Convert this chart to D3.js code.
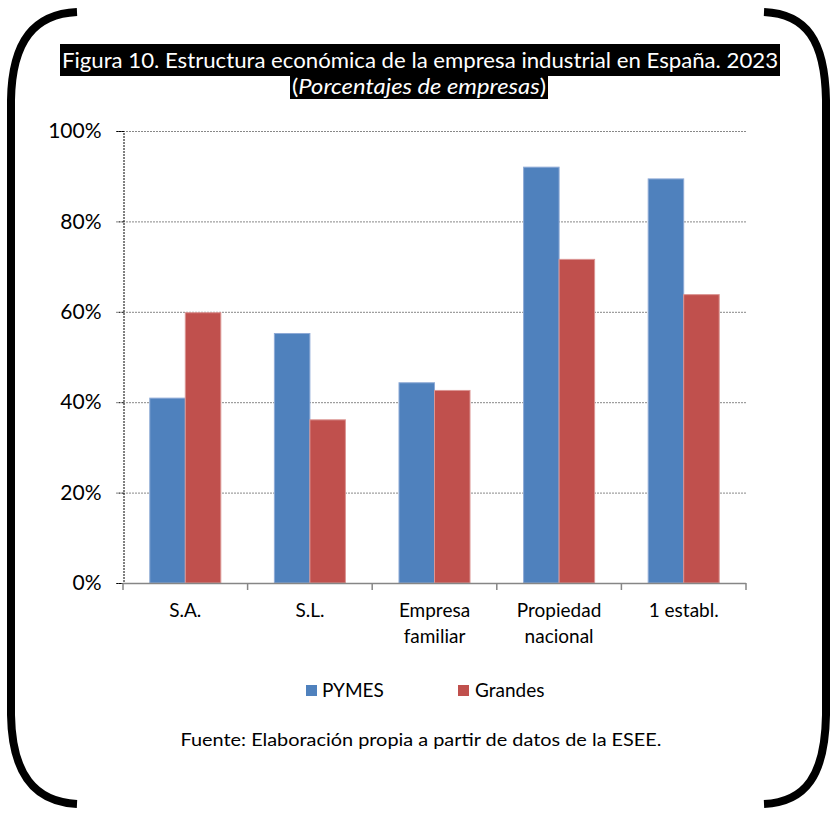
<!DOCTYPE html>
<html><head><meta charset="utf-8">
<script src="https://cdn.jsdelivr.net/npm/d3@7"></script>
<style>body{margin:0;background:#fff}svg{display:block}</style>
</head><body><svg id="c" width="832" height="815"></svg>
<script>
const categories = [["S.A."],["S.L."],["Empresa","familiar"],["Propiedad","nacional"],["1 establ."]];
const seriesNames = ["PYMES","Grandes"];
const pymes = [40.9, 55.2, 44.3, 92.0, 89.4];
const grandes = [59.8, 36.1, 42.6, 71.6, 63.8];
const yTicks = [0,20,40,60,80,100];
const colors = ["#4F81BD","#C0504D"];
const strokes = ["#8EAAD6","#DB9593"];

const svg = d3.select("#c");
const font = "Lato, sans-serif";
const m = {l:123, r:746, t:131, b:583};

// brackets
const bw = 8;
svg.append("path").attr("d","M77,12 C35,14 12,40 11,100 L11,715 C12,775 35,802 77,804")
  .attr("fill","none").attr("stroke","#000").attr("stroke-width",bw);
svg.append("path").attr("d","M764,12 C806,14 825,40 826,100 L826,715 C825,775 806,802 764,804")
  .attr("fill","none").attr("stroke","#000").attr("stroke-width",bw);

// title
svg.append("rect").attr("x",60).attr("y",44).attr("width",720).attr("height",32).attr("fill","#000");
svg.append("rect").attr("x",290).attr("y",76).attr("width",258).attr("height",23).attr("fill","#000");
svg.append("text").attr("x",420).attr("y",68).attr("text-anchor","middle").attr("fill","#fff")
  .attr("font-family",font).attr("font-size",21).attr("textLength",716).attr("lengthAdjust","spacingAndGlyphs")
  .text("Figura 10. Estructura económica de la empresa industrial en España. 2023");
const t2 = svg.append("text").attr("x",419).attr("y",94).attr("text-anchor","middle").attr("fill","#fff")
  .attr("font-family",font).attr("font-size",21).attr("textLength",254).attr("lengthAdjust","spacingAndGlyphs");
t2.append("tspan").text("(");
t2.append("tspan").attr("font-style","italic").text("Porcentajes de empresas");
t2.append("tspan").text(")");

const x0 = d3.scaleBand().domain(d3.range(categories.length)).range([m.l,m.r]).paddingInner(0.43).paddingOuter(0.215);
const x1 = d3.scaleBand().domain([0,1]).range([0,x0.bandwidth()]);
const y = d3.scaleLinear().domain([0,100]).range([m.b,m.t]);

// gridlines
svg.append("g").selectAll("line").data(yTicks.filter(d=>d>0)).join("line")
  .attr("x1",m.l).attr("x2",m.r).attr("y1",d=>y(d)+0.5).attr("y2",d=>y(d)+0.5)
  .attr("stroke","#888").attr("stroke-width",1).attr("stroke-dasharray","2,1");

// y axis
const ya = svg.append("g").attr("transform",`translate(${m.l+0.5},0)`)
  .call(d3.axisLeft(y).tickValues(yTicks).tickFormat(d=>d+"%").tickSize(7).tickPadding(15));
ya.select(".domain").attr("stroke","#000").attr("stroke-dasharray","2,1");
ya.selectAll(".tick line").attr("stroke","#000").attr("stroke-dasharray","2,1");
ya.selectAll("text").attr("font-family",font).attr("font-size",21).attr("fill","#000");

// bars
const data = categories.map((c,i)=>[pymes[i],grandes[i]]);
const g = svg.append("g");
data.forEach((vals,i)=>{
  vals.forEach((v,s)=>{
    g.append("rect").attr("x",x0(i)+x1(s)).attr("y",y(v)).attr("width",x1.bandwidth()).attr("height",m.b-y(v))
      .attr("fill",colors[s]).attr("stroke",strokes[s]).attr("stroke-width",1);
  });
});

// x axis
const step = (m.r-m.l)/categories.length;
svg.append("line").attr("x1",m.l).attr("x2",m.r).attr("y1",m.b+0.5).attr("y2",m.b+0.5).attr("stroke","#868686").attr("stroke-width",1.5);
svg.append("g").selectAll("line").data(d3.range(categories.length+1)).join("line")
  .attr("x1",d=>m.l+d*step).attr("x2",d=>m.l+d*step).attr("y1",m.b).attr("y2",m.b+7)
  .attr("stroke","#868686").attr("stroke-width",1.5);
categories.forEach((c,i)=>{
  c.forEach((line,j)=>{
    svg.append("text").attr("x",x0(i)+x0.bandwidth()/2).attr("y",617+j*26).attr("text-anchor","middle")
      .attr("font-family",font).attr("font-size",19).attr("fill","#000").text(line);
  });
});

// legend
const leg = [{x:306,tx:322},{x:458,tx:475}];
seriesNames.forEach((n,i)=>{
  svg.append("rect").attr("x",leg[i].x).attr("y",685).attr("width",11).attr("height",11).attr("fill",colors[i]);
  svg.append("text").attr("x",leg[i].tx).attr("y",697).attr("font-family",font).attr("font-size",19).attr("fill","#000").text(n);
});

svg.append("text").attr("x",421).attr("y",746).attr("text-anchor","middle").attr("font-family",font)
  .attr("font-size",18).attr("fill","#000").attr("textLength",481).attr("lengthAdjust","spacingAndGlyphs")
  .text("Fuente: Elaboración propia a partir de datos de la ESEE.");
</script></body></html>
